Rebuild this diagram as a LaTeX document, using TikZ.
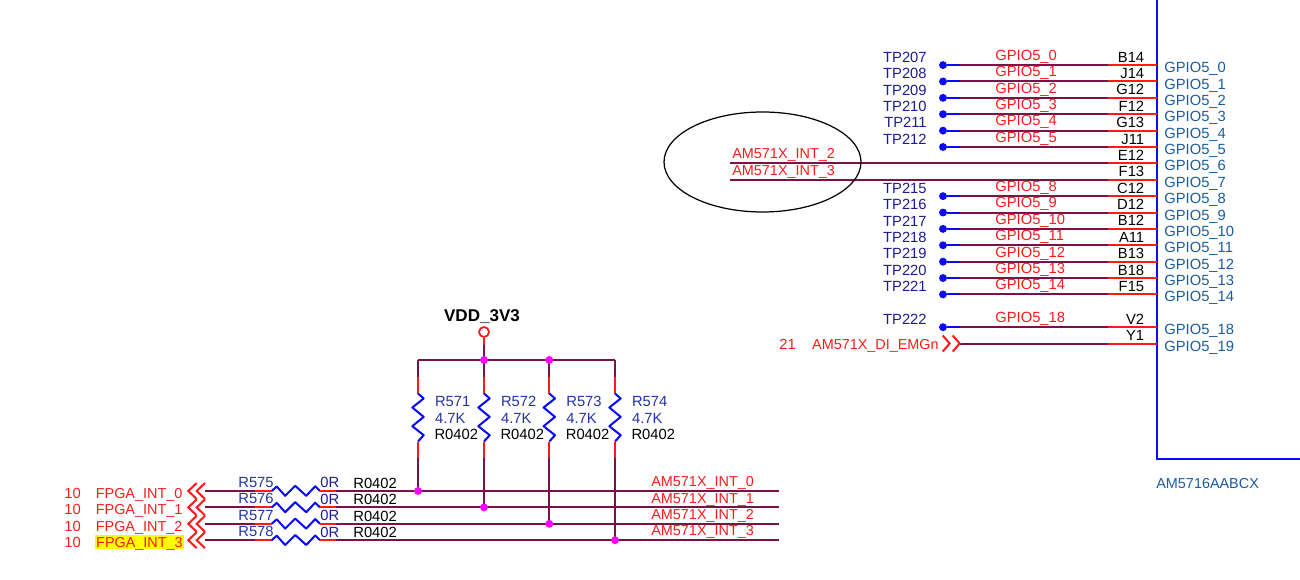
\documentclass[tikz,border=0pt]{standalone}
\usepackage{fontspec}
\setmainfont{Liberation Sans}
\usetikzlibrary{calc}
\definecolor{wirec}{HTML}{7A1248}
\definecolor{redc}{HTML}{FF1A1A}
\definecolor{bluec}{HTML}{0A0AF5}
\definecolor{tpc}{HTML}{1C1C90}
\definecolor{pinc}{HTML}{1A5C9E}
\definecolor{refc}{HTML}{2233A5}
\definecolor{magc}{HTML}{FF00FF}
\definecolor{hilite}{HTML}{FFFF00}
\tikzset{
    txt/.style={inner sep=0pt,font=\fontsize{8.4}{10}\selectfont,text height=6.1pt,text depth=0pt},
    small/.style={font=\fontsize{8.2}{10}\selectfont},
    wire/.style={wirec,line width=1.15pt},
    redw/.style={redc,line width=1.15pt},
    bluew/.style={bluec,line width=1.15pt},
    dot/.style={circle,fill=#1,inner sep=0pt,minimum size=4.5pt},
}
\begin{document}
\begin{tikzpicture}[x=0.02cm,y=-0.02cm]
        \useasboundingbox (0,0) rectangle (1300,580);
        \coordinate (chiptop) at (1157,0);
        \coordinate (chipcorner) at (1157,459);
        \coordinate (chipend) at (1300,459);
        \draw[bluew] (chiptop) -- (chipcorner) -- (chipend);
        \node[txt,small,anchor=west,pinc] (chipname) at (1156,483) {AM5716AABCX};
        \foreach \n/\r/\ball in {0/0/B14,1/1/J14,2/2/G12,3/3/F12,4/4/G13,5/5/J11,6/6/E12,7/7/F13,8/8/C12,9/9/D12,10/10/B12,11/11/A11,12/12/B13,13/13/B18,14/14/F15,18/16/V2,19/17/Y1}{
            \pgfmathsetmacro{\y}{65.1+16.38*\r}
            \coordinate (pin\n) at (1157,\y);
            \coordinate (b\n) at (1108,\y);
            \coordinate (a\n) at (960,\y);
            \draw[redw] (b\n) -- (pin\n);
            \node[txt,anchor=east] (ball\n) at (1144.5,\y-8.3) {\ball};
            \node[txt,anchor=west,pinc] (pname\n) at (1164,\y+2.2) {GPIO5\_\n};
        }
        \foreach \n/\tp in {0/207,1/208,2/209,3/210,4/211,5/212,8/215,9/216,10/217,11/218,12/219,13/220,14/221,18/222}{
            \node[dot=bluec,at={($(a\n)+(-17,0)$)}] (tp\n) {};
            \draw[bluew] (tp\n) -- (a\n);
            \draw[wire] (a\n) -- (b\n);
            \node[txt,anchor=east,tpc,at={($(tp\n)+(-16,-8.1)$)}] (tpname\n) {TP\tp};
            \node[txt,anchor=west,redc,at={($(a\n)+(35,-10)$)}] (net\n) {GPIO5\_\n};
        }
        \coordinate (int2) at (730,0 |- b6);
        \coordinate (int3) at (730,0 |- b7);
        \draw[wire] (int2) -- (b6);
        \draw[wire] (int3) -- (b7);
        \node[txt,small,anchor=west,redc] (intname2) at (732,153) {AM571X\_INT\_2};
        \node[txt,small,anchor=west,redc] (intname3) at (732,170.5) {AM571X\_INT\_3};
        \draw[black,line width=0.7pt] (762.5,162) ellipse [x radius=98.5,y radius=50];
        \draw[wire] (a19) -- (b19);
        \draw[redw] (942.7,335.5) -- ++(7,8) -- ++(-7,8);
        \draw[redw] (952.7,335.5) -- ++(7,8) -- ++(-7,8);
        \node[txt,anchor=east,redc,font=\fontsize{8.2}{10}\selectfont] (emg) at (939,344) {AM571X\_DI\_EMGn};
        \node[txt,anchor=west,redc] (emgpage) at (779,344) {21};
        \node[inner sep=0pt,font=\bfseries\fontsize{9.7}{11}\selectfont,text height=7pt,text depth=0pt] (vddname) at (482,315) {VDD\_3V3};
        \node[circle,draw=redc,line width=1pt,inner sep=0pt,minimum size=5.7pt] (vdd) at (484,332) {};
        \coordinate (vddwire) at (484,345);
        \foreach \n/\x/\yb in {571/418/491,572/484/507.4,573/549.3/523.8,574/615/540.2}{
            \coordinate (top\n) at (\x,360);
            \coordinate (bot\n) at (\x,\yb);
            \coordinate (ra\n) at (\x,377);
            \coordinate (rb\n) at (\x,393.5);
            \coordinate (rc\n) at (\x,441.5);
            \coordinate (rd\n) at (\x,458);
            \draw[wire] (top\n) -- (ra\n);
            \draw[redw] (ra\n) -- (rb\n);
            \draw[bluew,line join=round] (rb\n) -- ++(5.7,5) -- ++(-11.4,9) -- ++(11.4,9.4) -- ++(-11.4,9.3) -- ++(11.4,9) -- ++(-5.7,6.3);
            \draw[redw] (rc\n) -- (rd\n);
            \draw[wire] (rd\n) -- (bot\n);
            \node[txt,anchor=west,refc,at={($(top\n)+(16.7,41)$)}] (rname\n) {R\n};
            \node[txt,anchor=west,refc,at={($(top\n)+(16.7,58)$)}] (rval\n) {4.7K};
            \node[txt,anchor=west,at={($(top\n)+(16.2,74.3)$)}] (rpkg\n) {R0402};
        }
        \draw[redw] (vdd) -- (vddwire);
        \draw[wire] (vddwire) -- (top572);
        \draw[wire] (top571) -- (top574);
        \node[dot=magc] (busdot1) at (top572) {};
        \node[dot=magc] (busdot2) at (top573) {};
        \foreach \i/\n/\yy/\ry in {0/575/491/571,1/576/507.4/572,2/577/523.8/573,3/578/540.2/574}{
            \coordinate (fa\i) at (205,\yy);
            \coordinate (fb\i) at (255,\yy);
            \coordinate (fc\i) at (271.7,\yy);
            \coordinate (fd\i) at (320,\yy);
            \coordinate (fe\i) at (336,\yy);
            \coordinate (ff\i) at (779,\yy);
            \draw[wire] (fa\i) -- (fb\i);
            \draw[redw] (fb\i) -- (fc\i);
            \draw[bluew,line join=round] (fc\i) -- ++(5,-4.5) -- ++(8.5,9.3) -- ++(10,-10) -- ++(11,10) -- ++(9,-9.5) -- ++(4.8,4.7);
            \draw[redw] (fd\i) -- (fe\i);
            \draw[wire] (fe\i) -- (ff\i);
            \draw[redw] (196.7,\yy-8) -- ++(-8.4,8) -- ++(8.4,8);
            \draw[redw] (205,\yy-8) -- ++(-8.3,8) -- ++(8.3,8);
            \node[dot=magc] (jdot\i) at (bot\ry) {};
            \node[txt,anchor=west,refc] (hname\i) at (238,\yy-9) {R\n};
            \node[txt,anchor=west,tpc] (hval\i) at (320,\yy-8.5) {0R};
            \node[txt,anchor=west] (hpkg\i) at (353,\yy-8) {R0402};
            \node[txt,small,anchor=west,redc] (out\i) at (651,\yy-9.7) {AM571X\_INT\_\i};
            \node[txt,anchor=west,redc] (page\i) at (64,\yy+2) {10};
        }
        \node[txt,small,anchor=west,redc] (fpga0) at (95.5,493) {FPGA\_INT\_0};
        \node[txt,small,anchor=west,redc] (fpga1) at (95.5,509.4) {FPGA\_INT\_1};
        \node[txt,small,anchor=west,redc] (fpga2) at (95.5,525.8) {FPGA\_INT\_2};
        \node[txt,small,anchor=west,redc,fill=hilite,inner ysep=1.2pt,inner xsep=0.5pt] (fpga3) at (95,542) {FPGA\_INT\_3};
\end{tikzpicture}
\end{document}
